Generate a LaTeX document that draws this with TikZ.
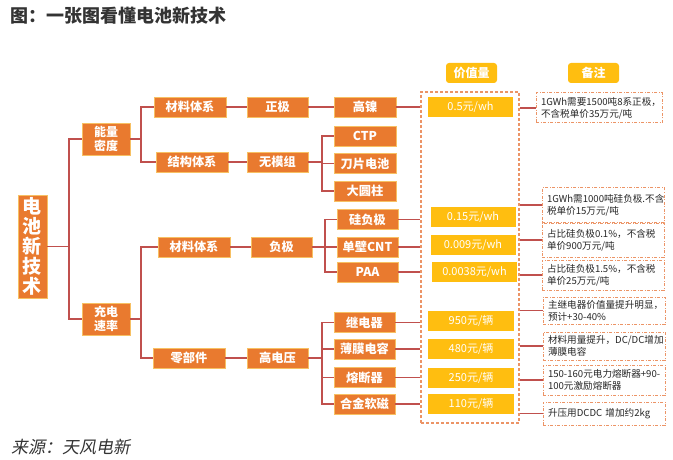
\documentclass[tikz,border=0pt]{standalone}
\usepackage{fontspec}
\setmainfont{Noto Sans CJK SC}
\newfontfamily\cjksl{Noto Sans CJK SC}[FakeSlant=0.2]
\definecolor{obox}{HTML}{E97A2F}
\definecolor{oborder}{HTML}{F7C063}
\definecolor{gold}{HTML}{FFBE10}
\definecolor{lineC}{HTML}{C0504D}
\definecolor{coldash}{HTML}{EC9466}
\definecolor{ndash}{HTML}{EC9466}
\definecolor{ntext}{HTML}{262626}
\definecolor{titleC}{HTML}{333333}
\begin{document}
\begin{tikzpicture}[x=1pt,y=-1pt,
  ob/.style={fill=obox, draw=oborder, line width=0.6pt, text=white,
    font=\bfseries\fontsize{12.2}{13}\selectfont, inner sep=0pt, minimum height=20pt},
  vb/.style={fill=gold, draw=none, text=white, font=\fontsize{11}{12}\selectfont,
    inner sep=0pt, minimum width=85pt, minimum height=20pt},
  hb/.style={fill=gold, rounded corners=3pt, text=white,
    font=\bfseries\fontsize{12}{14}\selectfont, minimum width=51pt, minimum height=20pt, inner sep=0pt},
  nb/.style={draw=ndash, line width=1pt, dash pattern=on 3pt off 1.5pt on 1pt off 1.5pt,
    text=ntext, font=\fontsize{9.6}{12}\selectfont, align=left, inner xsep=5pt, inner ysep=0pt,
    text width=112pt},
  ln/.style={draw=lineC, line width=1.1pt}
]
\useasboundingbox (0,0) rectangle (673,460);

\node[font=\bfseries\fontsize{18}{20}\selectfont, text=titleC, anchor=west, inner sep=0pt] (title) at (10,16) {图：一张图看懂电池新技术};
\node[font=\cjksl\fontsize{17}{19}\selectfont, text=black!80, anchor=west, inner sep=0pt] (src) at (11,447) {来源：天风电新};

% level 0-1
\node[ob, minimum width=29pt, minimum height=103pt, align=center, font=\bfseries\fontsize{19}{20}\selectfont] (root) at (32.5,246.5) {电\\池\\新\\技\\术};
\node[ob, minimum width=48pt, minimum height=32pt, align=center, font=\bfseries\fontsize{12}{14}\selectfont] (nl) at (106,139) {能量\\密度};
\node[ob, minimum width=48pt, minimum height=32pt, align=center, font=\bfseries\fontsize{12}{14}\selectfont] (cs) at (106,319) {充电\\速率};

% level 2
\node[ob, minimum width=72pt] (m1) at (190,107) {材料体系};
\node[ob, minimum width=72pt] (s1) at (192,162) {结构体系};
\node[ob, minimum width=72pt] (m2) at (194,247) {材料体系};
\node[ob, minimum width=72pt] (lb) at (189,358) {零部件};

% level 3
\node[ob, minimum width=61pt] (zj) at (277.5,107) {正极};
\node[ob, minimum width=61pt] (wm) at (277.5,162) {无模组};
\node[ob, minimum width=61pt] (fj) at (281.5,247) {负极};
\node[ob, minimum width=61pt] (gd) at (277.5,358) {高电压};

% level 4
\node[ob, minimum width=62pt] (gn) at (365,107) {高镍};
\node[ob, minimum width=62pt] (ctp) at (365,136) {CTP};
\node[ob, minimum width=62pt] (dp) at (365,163.5) {刀片电池};
\node[ob, minimum width=62pt] (dy) at (365,191) {大圆柱};
\node[ob, minimum width=61pt] (gf) at (367.5,219.5) {硅负极};
\node[ob, minimum width=61pt] (cnt) at (367.5,247) {单壁CNT};
\node[ob, minimum width=61pt] (paa) at (367.5,272) {PAA};
\node[ob, minimum width=61pt] (jd) at (364.5,322.5) {继电器};
\node[ob, minimum width=61pt] (bm) at (364.5,349) {薄膜电容};
\node[ob, minimum width=61pt] (rd) at (364.5,377.5) {熔断器};
\node[ob, minimum width=61pt] (hj) at (364.5,404) {合金软磁};

% headers
\node[hb] (h1) at (471.5,73) {价值量};
\node[hb] (h2) at (593.5,73) {备注};

% value column
\node[draw=coldash, line width=1.1pt, dash pattern=on 3pt off 2pt, minimum width=98pt, minimum height=331pt, inner sep=0pt] (vcol) at (470,257.5) {};
\node[vb] (v1) at (470.5,107) {0.5元/wh};
\node[vb] (v2) at (473,217) {0.15元/wh};
\node[vb] (v3) at (473,245) {0.009元/wh};
\node[vb] (v4) at (474.5,272) {0.0038元/wh};
\node[vb, minimum width=86pt] (v5) at (471,321) {950元/辆};
\node[vb, minimum width=86pt] (v6) at (471,349) {480元/辆};
\node[vb, minimum width=86pt] (v7) at (471,377.5) {250元/辆};
\node[vb, minimum width=86pt] (v8) at (471,404) {110元/辆};

% notes
\node[nb, minimum height=30pt, text width=116pt] (n1) at (599,108) {\mbox{1GWh需要1500吨8系正极，}\\不含税单价35万元/吨};
\node[nb, minimum height=35pt] (n2) at (603,205) {\mbox{1GWh需1000吨硅负极.不含}\\税单价15万元/吨};
\node[nb, minimum height=34pt] (n3) at (603,240) {\mbox{占比硅负极0.1\%，不含税}\\单价900万元/吨};
\node[nb, minimum height=30pt] (n4) at (603,275) {\mbox{占比硅负极1.5\%，不含税}\\单价25万元/吨};
\node[nb, minimum height=27pt] (n5) at (604,310.5) {\mbox{主继电器价值量提升明显，}\\预计+30-40\%};
\node[nb, minimum height=28pt] (n6) at (604,346) {\mbox{材料用量提升，DC/DC增加}\\薄膜电容};
\node[nb, minimum height=30pt] (n7) at (604,380) {\mbox{150-160元电力熔断器+90-}\\\mbox{100元激励熔断器}};
\node[nb, minimum height=23pt] (n8) at (604,413.5) {\mbox{升压用DCDC 增加约2kg}};

% junction coordinates
\coordinate (j0) at (69,0);
\coordinate (j1) at (141,0);
\coordinate (j2) at (322,0);
\coordinate (j3) at (325,0);

% connectors
\draw[ln] (root.east) -- (root.east -| j0);
\draw[ln] (nl.west) -- (nl.west -| j0) -- (cs.west -| j0) -- (cs.west);

\draw[ln] (nl.east) -- (nl.east -| j1);
\draw[ln] (m1.west) -- (m1.west -| j1) -- (s1.west -| j1) -- (s1.west);
\draw[ln] (cs.east) -- (cs.east -| j1);
\draw[ln] (m2.west) -- (m2.west -| j1) -- (lb.west -| j1) -- (lb.west);

\draw[ln] (m1) -- (zj);
\draw[ln] (s1) -- (wm);
\draw[ln] (m2) -- (fj);
\draw[ln] (lb) -- (gd);
\draw[ln] (zj) -- (gn);

\draw[ln] (wm.east) -- (wm.east -| j2);
\draw[ln] (ctp.west) -- (ctp.west -| j2) -- (dy.west -| j2) -- (dy.west);
\draw[ln] (dp.west) -- (dp.west -| j2);

\draw[ln] (fj.east) -- (fj.east -| j3);
\draw[ln] (gf.west) -- (gf.west -| j3) -- (paa.west -| j3) -- (paa.west);
\draw[ln] (cnt.west) -- (cnt.west -| j3);

\draw[ln] (gd.east) -- (gd.east -| j2);
\draw[ln] (jd.west) -- (jd.west -| j2) -- (hj.west -| j2) -- (hj.west);
\draw[ln] (bm.west) -- (bm.west -| j2);
\draw[ln] (rd.west) -- (rd.west -| j2);

\foreach \a in {gn,gf,cnt,paa,jd,bm,rd,hj}
  \draw[ln] (\a.east) -- (vcol.west |- \a.east);

\foreach \n in {n1,n2,n3,n4,n5,n6,n7,n8}
  \draw[ln] (vcol.east |- \n.west) -- (\n.west);

\end{tikzpicture}
\end{document}
